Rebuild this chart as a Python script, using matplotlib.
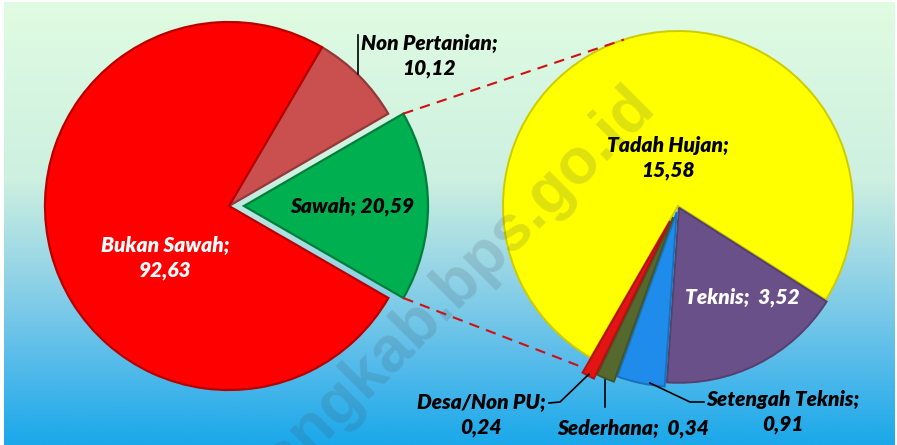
import numpy as np
import matplotlib.pyplot as plt
from matplotlib.colors import LinearSegmentedColormap, to_rgb

W, H = 897, 445

# left pie (luas lahan)
left_labels = ['Sawah', 'Non Pertanian', 'Bukan Sawah']
left_values = [20.59, 10.12, 92.63]
left_colors = ['#00B050', '#C9504F', '#FF0000']

# right pie (rincian sawah)
right_labels = ['Tadah Hujan', 'Teknis', 'Setengah Teknis', 'Sederhana', 'Desa/Non PU']
right_values = [15.58, 3.52, 0.91, 0.34, 0.24]
right_colors = ['#FFFF00', '#6A5088', '#1F8CEB', '#55692E', '#E31414']


def fmt(v):
    return f'{v:.2f}'.replace('.', ',')


def darker(c, f=0.72):
    r, g, b = to_rgb(c)
    return (r * f, g * f, b * f)


def py(y):
    # pixel row (from top) -> data y
    return H - y


FONT = ['Lato', 'DejaVu Sans']
lab = dict(fontsize=15, fontweight=800, fontstyle='italic', family=FONT,
           ha='center', va='center', linespacing=1.4)

fig = plt.figure(figsize=(W / 100, H / 100), dpi=100)
fig.patch.set_facecolor('white')

# background gradient
bg = fig.add_axes([4 / W, 0, 890 / W, 443 / H])
grad = LinearSegmentedColormap.from_list(
    'bg', [(0.0, '#E0FCE2'), (0.4, '#CDF0E0'), (0.62, '#92D3E6'),
           (0.8, '#5BBDEA'), (1.0, '#1AA8EA')])
bg.imshow(np.linspace(0, 1, 256).reshape(-1, 1), aspect='auto', cmap=grad,
          extent=[0, 1, 0, 1], origin='upper')
bg.set_axis_off()

ax = fig.add_axes([0, 0, 1, 1])
ax.patch.set_alpha(0)

# left pie (explode is in pixels here since data units = pixels)
lc = (229, py(206))
lr = 184
lw_, _ = ax.pie(left_values, colors=left_colors, startangle=-30, counterclock=True,
                center=lc, radius=lr, explode=[15, 0, 0],
                wedgeprops=dict(linewidth=1.6))
for w, c in zip(lw_, left_colors):
    w.set_edgecolor(darker(c))

# right pie
rc_ = (678, py(206))
rr = 175
rw, _ = ax.pie(right_values, colors=right_colors, startangle=240, counterclock=False,
               center=rc_, radius=rr, explode=[0, 2, 6, 12, 17],
               wedgeprops=dict(linewidth=1.4))
for w, c in zip(rw, right_colors):
    w.set_edgecolor(darker(c, 0.8))

ax.set_xlim(0, W)
ax.set_ylim(0, H)
ax.set_aspect('equal')
ax.set_axis_off()


def wedge_point(w, ang, frac=1.0):
    cx, cy = w.center
    a = np.deg2rad(ang)
    return cx + w.r * frac * np.cos(a), cy + w.r * frac * np.sin(a)


# connector lines from sawah wedge to right pie
saw = lw_[0]
top_a = wedge_point(saw, saw.theta2)
bot_a = wedge_point(saw, saw.theta1)
top_b = (rc_[0] + rr * np.cos(np.deg2rad(108)), rc_[1] + rr * np.sin(np.deg2rad(108)))
desa = rw[-1]
bot_b = wedge_point(desa, min(desa.theta1, desa.theta2) + 0.5, 0.97)
for a, b in [(top_a, top_b), (bot_a, bot_b)]:
    ax.plot([a[0], b[0]], [a[1], b[1]], color='#D01010', lw=1.5,
            dashes=(5, 3.5), zorder=1)

# labels
ax.text(165, py(258), f'Bukan Sawah;\n{fmt(left_values[2])}', color='white', **lab)
ax.text(429, py(56), f'Non Pertanian;\n{fmt(left_values[1])}', color='black', **lab)
ax.text(352, py(206), f'Sawah; {fmt(left_values[0])}', color='black', **lab)
ax.text(668, py(158), f'Tadah Hujan;\n{fmt(right_values[0])}', color='black', **lab)
ax.text(742, py(297), f'Teknis;  {fmt(right_values[1])}', color='white', **lab)
ax.text(783, py(412), f'Setengah Teknis;\n{fmt(right_values[2])}', color='black', **lab)
ax.text(633, py(428), f'Sederhana;  {fmt(right_values[3])}', color='black', **lab)
ax.text(481, py(415), f'Desa/Non PU;\n{fmt(right_values[4])}', color='black', **lab)

# leader lines
ax.plot([358, 358], [py(35), py(74)], color='black', lw=1.2)
d = wedge_point(desa, (desa.theta1 + desa.theta2) / 2, 0.99)
ax.plot([d[0], 560, 549], [d[1], py(402), py(403)], color='black', lw=1.2)
s = wedge_point(rw[3], (rw[3].theta1 + rw[3].theta2) / 2, 1.0)
ax.plot([s[0], s[0]], [s[1] - 2, py(407)], color='black', lw=1.2)
st = wedge_point(rw[2], (rw[2].theta1 + rw[2].theta2) / 2 + 3, 0.99)
ax.plot([st[0], 690, 704], [st[1], py(402), py(402)], color='black', lw=1.2)

# watermark
ax.text(452, py(292), 'tangkab.bps.go.id', rotation=45, ha='center', va='center',
        fontsize=46, fontweight='bold', family=['Liberation Sans', 'DejaVu Sans'],
        color=(0.25, 0.3, 0.35), alpha=0.17, zorder=5)

fig.savefig('out.png', dpi=100)
plt.close(fig)
